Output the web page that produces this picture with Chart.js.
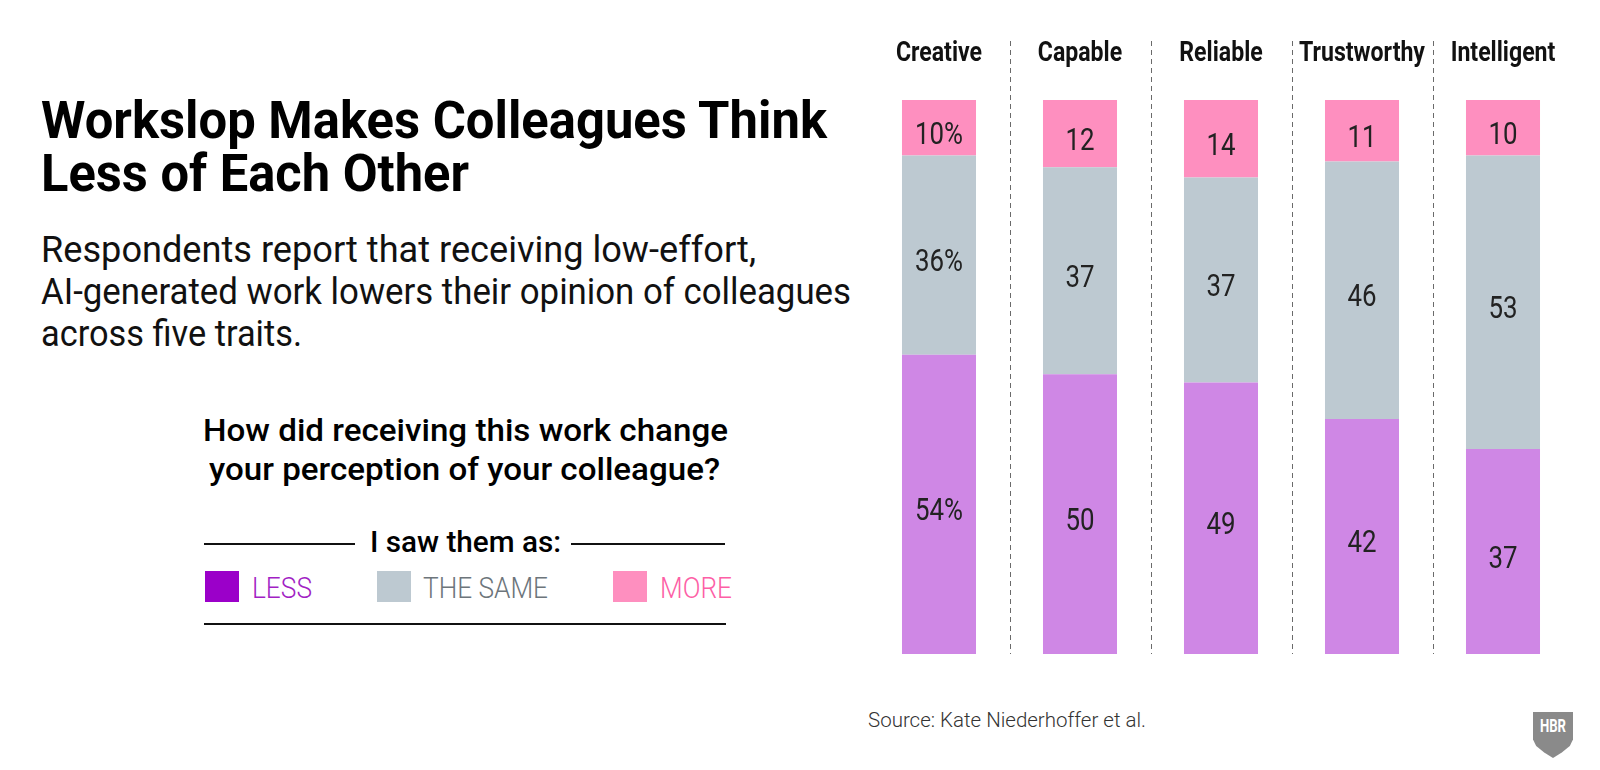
<!DOCTYPE html>
<html>
<head>
<meta charset="utf-8">
<script src="https://cdn.jsdelivr.net/npm/chart.js@4.4.1/dist/chart.umd.min.js"></script>
<style>
html, body { margin: 0; padding: 0; background: #fff; }
body { width: 1600px; height: 770px; position: relative; overflow: hidden; font-family: Roboto, "Noto Sans", sans-serif; }
.t { position: absolute; white-space: nowrap; line-height: 1; transform-origin: 0 0; }
.rule { position: absolute; height: 2px; background: #111; }
.sw { position: absolute; width: 34px; height: 31px; }
#wrap { position: absolute; left: 840px; top: 0; width: 760px; height: 770px; }
.shield { position: absolute; left: 1533px; top: 712px; width: 40px; height: 46px; background: #8a8a8a;
  clip-path: polygon(0 0, 100% 0, 100% 60%, 92% 74%, 72% 88%, 50% 100%, 28% 88%, 8% 74%, 0 60%); }
</style>
</head>
<body>

<!-- left column: headline, dek, question and legend -->
<div class="t" data-x="41" data-b="138" data-w="786" style="font-size:51px;font-weight:700;color:#000">Workslop Makes Colleagues Think</div>
<div class="t" data-x="41" data-b="191" data-w="428" style="font-size:51px;font-weight:700;color:#000">Less of Each Other</div>

<div class="t" data-x="41" data-b="262" data-w="715" style="font-size:36px;font-weight:400;color:#111">Respondents report that receiving low-effort,</div>
<div class="t" data-x="41" data-b="304" data-w="810" style="font-size:36px;font-weight:400;color:#111">AI-generated work lowers their opinion of colleagues</div>
<div class="t" data-x="41" data-b="346" data-w="261" style="font-size:36px;font-weight:400;color:#111">across five traits.</div>

<div class="t" data-x="203" data-b="441" data-w="525" style="font-size:32px;font-weight:500;color:#000">How did receiving this work change</div>
<div class="t" data-x="209" data-b="480" data-w="511" style="font-size:32px;font-weight:500;color:#000">your perception of your colleague?</div>

<div class="rule" style="left:204px;top:543px;width:151px"></div>
<div class="t" data-x="370" data-b="552" data-w="191" style="font-size:29px;font-weight:500;color:#000">I saw them as:</div>
<div class="rule" style="left:571px;top:543px;width:154px"></div>

<div class="sw" style="left:205px;top:571px;background:#9b00c9"></div>
<div class="t" data-x="252" data-b="598" data-w="60" style="font-size:30px;font-weight:300;color:#a21fc4">LESS</div>
<div class="sw" style="left:377px;top:571px;background:#bdc9d1"></div>
<div class="t" data-x="423" data-b="598" data-w="125" style="font-size:30px;font-weight:300;color:#6d757b">THE SAME</div>
<div class="sw" style="left:613px;top:571px;background:#fe8fbf"></div>
<div class="t" data-x="660" data-b="598" data-w="72" style="font-size:30px;font-weight:300;color:#fd5fa6">MORE</div>
<div class="rule" style="left:204px;top:623px;width:522px"></div>

<div class="t" data-x="868" data-b="727" data-w="278" style="font-size:20px;font-weight:300;color:#333">Source: Kate Niederhoffer et al.</div>

<div class="shield"></div>
<div class="t" data-x="1540" data-b="732" data-w="26" style="font-size:18px;font-weight:700;color:#fff">HBR</div>

<div id="wrap"><canvas id="chart" width="760" height="770"></canvas></div>

<script>
// --- data ---
const traits = ['Creative', 'Capable', 'Reliable', 'Trustworthy', 'Intelligent'];
const lessPct = [54, 50, 49, 42, 37];
const samePct = [36, 37, 37, 46, 53];
const morePct = [10, 12, 14, 11, 10];

const barColors = { less: '#cf87e5', same: '#bdc9d1', more: '#fe8fbf' };

// rows don't always add to 100 (rounding), the bars are drawn as full-height shares
const totals = traits.map((_, i) => lessPct[i] + samePct[i] + morePct[i]);
const share = arr => arr.map((v, i) => v / totals[i] * 100);

// place html text by baseline and squeeze it to the measured width
document.querySelectorAll('.t').forEach(el => {
    const size = parseFloat(el.style.fontSize);
    el.style.left = el.dataset.x + 'px';
    el.style.top = (parseFloat(el.dataset.b) - 0.842 * size) + 'px';
    const w = el.getBoundingClientRect().width;
    el.style.transform = `scaleX(${parseFloat(el.dataset.w) / w})`;
});

const NUM_FONT = '400 31px Roboto, "Noto Sans", sans-serif';
const CAT_FONT = '700 28px Roboto, "Noto Sans", sans-serif';

const separators = {
    id: 'separators',
    beforeDatasetsDraw(chart) {
        const ctx = chart.ctx;
        const xs = chart.scales.x;
        ctx.save();
        ctx.strokeStyle = '#6a6a6a';
        ctx.lineWidth = 1;
        ctx.setLineDash([5, 4]);
        for (let i = 0; i < traits.length - 1; i++) {
            const x = Math.round((xs.getPixelForValue(i) + xs.getPixelForValue(i + 1)) / 2) + 0.5;
            ctx.beginPath();
            ctx.moveTo(x, 41);
            ctx.lineTo(x, chart.chartArea.bottom);
            ctx.stroke();
        }
        ctx.restore();
    }
};

const labels = {
    id: 'labels',
    afterDatasetsDraw(chart) {
        const ctx = chart.ctx;
        ctx.save();
        ctx.textAlign = 'center';
        ctx.textBaseline = 'alphabetic';

        // numbers inside each segment
        ctx.font = NUM_FONT;
        ctx.fillStyle = '#222';
        const kNum = 48 / ctx.measureText('54%').width;
        chart.data.datasets.forEach((ds, di) => {
            chart.getDatasetMeta(di).data.forEach((bar, i) => {
                const mid = (bar.y + bar.base) / 2;
                const txt = ds.raw[i] + (i === 0 ? '%' : '');
                ctx.save();
                ctx.translate(bar.x, mid + 5 + 0.355 * 31);
                ctx.scale(kNum, 1);
                ctx.fillText(txt, 0, 0);
                ctx.restore();
            });
        });

        // trait names above the bars
        ctx.font = CAT_FONT;
        ctx.fillStyle = '#111';
        const kCat = 126 / ctx.measureText('Trustworthy').width;
        const xs = chart.scales.x;
        traits.forEach((name, i) => {
            ctx.save();
            ctx.translate(xs.getPixelForValue(i), 61);
            ctx.scale(kCat, 1);
            ctx.fillText(name, 0, 0);
            ctx.restore();
        });
        ctx.restore();
    }
};

new Chart(document.getElementById('chart'), {
    type: 'bar',
    data: {
        labels: traits,
        datasets: [
            { label: 'Less', data: share(lessPct), raw: lessPct, backgroundColor: barColors.less },
            { label: 'The same', data: share(samePct), raw: samePct, backgroundColor: barColors.same },
            { label: 'More', data: share(morePct), raw: morePct, backgroundColor: barColors.more }
        ]
    },
    options: {
        responsive: false,
        animation: false,
        events: [],
        barPercentage: 0.525,
        categoryPercentage: 1,
        layout: { padding: { left: 28.5, right: 26.5, top: 100, bottom: 116 } },
        plugins: { legend: { display: false }, tooltip: { enabled: false } },
        scales: {
            x: { stacked: true, display: false, offset: true },
            y: { stacked: true, display: false, min: 0, max: 100 }
        }
    },
    plugins: [separators, labels]
});
</script>
</body>
</html>
